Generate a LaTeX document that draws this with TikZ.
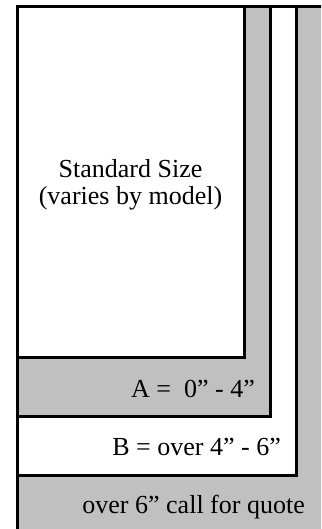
\documentclass[tikz,border=0pt]{standalone}
\usepackage{fontspec}
\setmainfont{Liberation Serif}
\definecolor{bandgray}{RGB}{192,192,192}
\tikzset{
  band/.style={draw=black, line width=3bp, fill=bandgray},
  plain/.style={draw=black, line width=3bp, fill=white},
  sizelabel/.style={font=\fontsize{26bp}{27bp}\selectfont, inner sep=0pt},
}

\begin{document}
\begin{tikzpicture}[x=1bp, y=-1bp]
    \useasboundingbox (0,0) rectangle (321,529);
    \clip (0,0) rectangle (321,529);

    % Over 6" band (runs off the page)
    \draw[band] (17,7) rectangle (340,560);

    % B band
    \draw[plain] (17,7) rectangle (296,475);

    % A band
    \draw[band] (17,7) rectangle (270,416);

    % Standard size
    \draw[plain] (17,7) rectangle (244,357);

    % Labels
    \node[sizelabel, align=center] (std) at (130.5,185) {Standard Size\\(varies by model)};
    \node[sizelabel, anchor=base east] (rangeA) at (255,397) {A = \ 0” - 4”};
    \node[sizelabel, anchor=base east] (rangeB) at (281,455) {B = over 4” - 6”};
    \node[sizelabel, anchor=base east] (quote) at (305,513) {over 6” call for quote};
\end{tikzpicture}
\end{document}
